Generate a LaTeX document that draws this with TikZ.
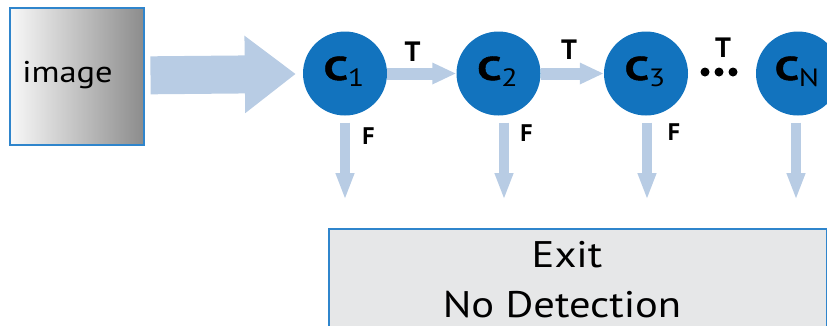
\documentclass[tikz,border=0pt]{standalone}
\usepackage{fontspec}
\setmainfont{PT Sans}
\newfontfamily\txtfont[FakeStretch=1.15]{PT Sans}
\newfontfamily\cfont[FakeStretch=1.3,BoldFeatures={FakeBold=1.4}]{PT Sans}
\newfontfamily\subfont[FakeStretch=1.2]{PT Sans}
\usetikzlibrary{arrows.meta}
\definecolor{cblue}{HTML}{1273BE}
\definecolor{abl}{HTML}{B8CCE4}
\definecolor{bord}{HTML}{2F85CC}
\definecolor{exitfill}{HTML}{E6E7E8}
\newcommand{\cl}[1]{C\raisebox{-6pt}{\subfont\mdseries\fontsize{25}{25}\selectfont #1}}
\tikzset{
  stage/.style={circle, fill=cblue, minimum size=84pt, inner sep=0pt},
  clab/.style={font=\cfont\fontsize{33}{33}\selectfont\bfseries, text=black, inner sep=0pt, anchor=base},
  tarrow/.style={draw=abl, line width=12pt, -{Triangle[width=20pt,length=24pt]}},
  farrow/.style={draw=abl, line width=10pt, -{Triangle[width=17pt,length=27pt]}, shorten <=7pt},
  bigarrow/.style={draw=abl, line width=38pt, -{Triangle[width=74pt,length=51pt]}, shorten <=6pt, shorten >=7pt},
  tlab/.style={font=\fontsize{28}{28}\selectfont\bfseries, inner sep=0pt},
  flab/.style={font=\fontsize{24}{24}\selectfont\bfseries, inner sep=0pt},
  btext/.style={font=\txtfont\fontsize{37}{37}\selectfont, inner sep=0pt, anchor=base},
}
\begin{document}
\begin{tikzpicture}[x=1pt,y=1pt]
\useasboundingbox (0,0) rectangle (827,-325);
\clip (0,0) rectangle (827,-325);
% image box
\node[draw=bord, line width=2pt, left color=white!95!gray, right color=black!45, minimum width=134pt, minimum height=137pt, inner sep=0pt] (img) at (76.5,-76) {};
\node[btext, font=\txtfont\fontsize{30}{30}\selectfont] (imgt) at (67.5,-82) {image};
% stages
\node[stage] (c1) at (345,-73.5) {};
\node[stage] (c2) at (498.5,-73.5) {};
\node[stage] (c3) at (646,-73.5) {};
\node[stage] (cn) at (798,-73.5) {};
\node[clab] (c1t) at (344,-80) {\cl{1}};
\node[clab] (c2t) at (497.5,-80) {\cl{2}};
\node[clab] (c3t) at (645,-80) {\cl{3}};
\node[clab] (cnt) at (797,-80) {\cl{N}};
% big arrow
\draw[bigarrow] (img) -- (c1);
% T arrows
\draw[tarrow] (c1) -- (c2);
\draw[tarrow] (c2) -- (c3);
\node[tlab] (t1) at (412.5,-52) {T};
\node[tlab] (t2) at (569,-50) {T};
\node[tlab] (t3) at (723,-48) {T};
\fill (705,-72) circle (4.5pt) (719,-72) circle (4.5pt) (733,-72) circle (4.5pt);
% exit box
\node[draw=bord, fill=exitfill, line width=2pt, minimum width=498pt, minimum height=130pt, inner sep=0pt, anchor=north west] (exit) at (328,-228) {};
\node[btext] (exit1) at (567,-267) {Exit};
\node[btext] (exit2) at (562,-317) {No Detection};
% F arrows
\coordinate (f1) at (345,-200);
\coordinate (f2) at (504,-200);
\coordinate (f3) at (647,-200);
\coordinate (f4) at (796,-200);
\draw[farrow] (c1.south -| f1) -- (f1);
\draw[farrow] (c2.south -| f2) -- (f2);
\draw[farrow] (c3.south -| f3) -- (f3);
\draw[farrow] (cn.south -| f4) -- (f4);
\node[flab] (fl1) at (368.5,-136.5) {F};
\node[flab] (fl2) at (526.5,-133.5) {F};
\node[flab] (fl3) at (674,-132) {F};
\end{tikzpicture}
\end{document}
